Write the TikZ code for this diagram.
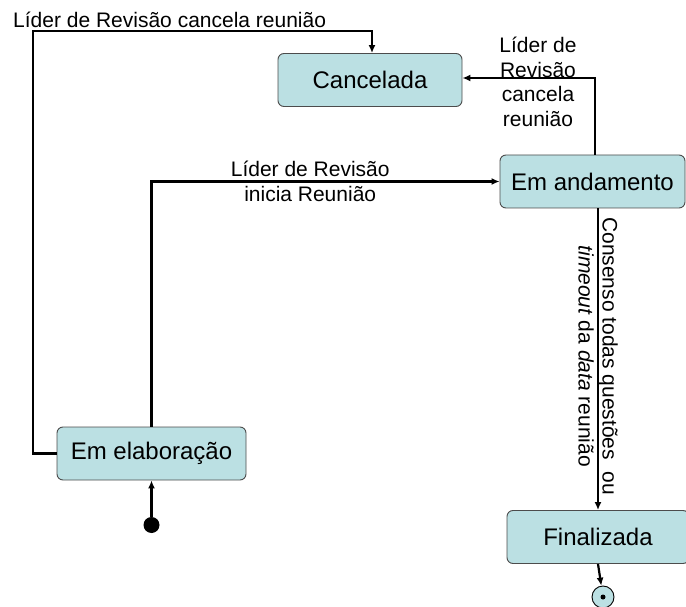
\documentclass[tikz,border=0pt]{standalone}
\usepackage{fontspec}
\setmainfont{Liberation Sans}
\usetikzlibrary{arrows.meta}

\definecolor{azulcaixa}{RGB}{187,224,227}
\tikzset{
  estado/.style={draw=black!70, line width=0.9pt, fill=azulcaixa, rounded corners=6pt,
    minimum height=53pt, font=\fontsize{24}{28}\selectfont},
  rotulo/.style={inner sep=0pt, align=center, font=\fontsize{21}{24.5}\selectfont},
  seta/.style={line width=2.2pt, -{Latex[length=8pt,width=7pt]}}
}

\begin{document}
\begin{tikzpicture}[x=1pt, y=-1pt]
    \useasboundingbox (0,0) rectangle (686,607);
    \node[estado, minimum width=184pt] (canc) at (370,80) {Cancelada};
    \node[estado, minimum width=185pt] (and) at (592.5,181.5) {Em andamento};
    \node[estado, minimum width=189pt] (elab) at (151.5,453.5) {Em elabora\c{c}\~ao};
    \node[estado, minimum width=182pt] (fin) at (598,537) {Finalizada};
    \node[circle, fill=black, inner sep=0pt, minimum size=16pt] (ini) at (151.5,525) {};
    \node[circle, draw=black, line width=0.9pt, fill=azulcaixa, inner sep=0pt, minimum size=22pt] (fim) at (603,597) {};
    \fill (fim.center) circle (2.5pt);
    \coordinate (c1) at (33,31);
%    \coordinate (c2) at (595,82);
    \draw[seta] (ini) -- (elab.south);
    \draw[seta] (elab.north) |- (and.west)
      node[rotulo, pos=0.728] (lini) {L\'{\i}der de Revis\~ao\\inicia Reuni\~ao};
    \draw[seta] (elab.west) -| (c1) -| ([xshift=2pt]canc.north);
    \node[rotulo, anchor=base west] (lcanc1) at (13,28) {L\'{\i}der de Revis\~ao cancela reuni\~ao};
    \draw[seta] ([xshift=2.5pt]and.north) |- ([yshift=2pt]canc.east);
    \node[rotulo] (lcanc2) at (538,82) {L\'{\i}der de\\Revis\~ao\\cancela\\reuni\~ao};
    \draw[seta] (fin.north |- and.south) -- (fin.north)
      node[rotulo, pos=0.49, rotate=-90, font=\fontsize{21}{24}\selectfont] (lfin)
      {Consenso todas quest\~oes\ \ ou\\\textit{timeout} da \textit{data} reuni\~ao};
    \draw[seta] (fin.south) -- (fim);
\end{tikzpicture}
\end{document}
